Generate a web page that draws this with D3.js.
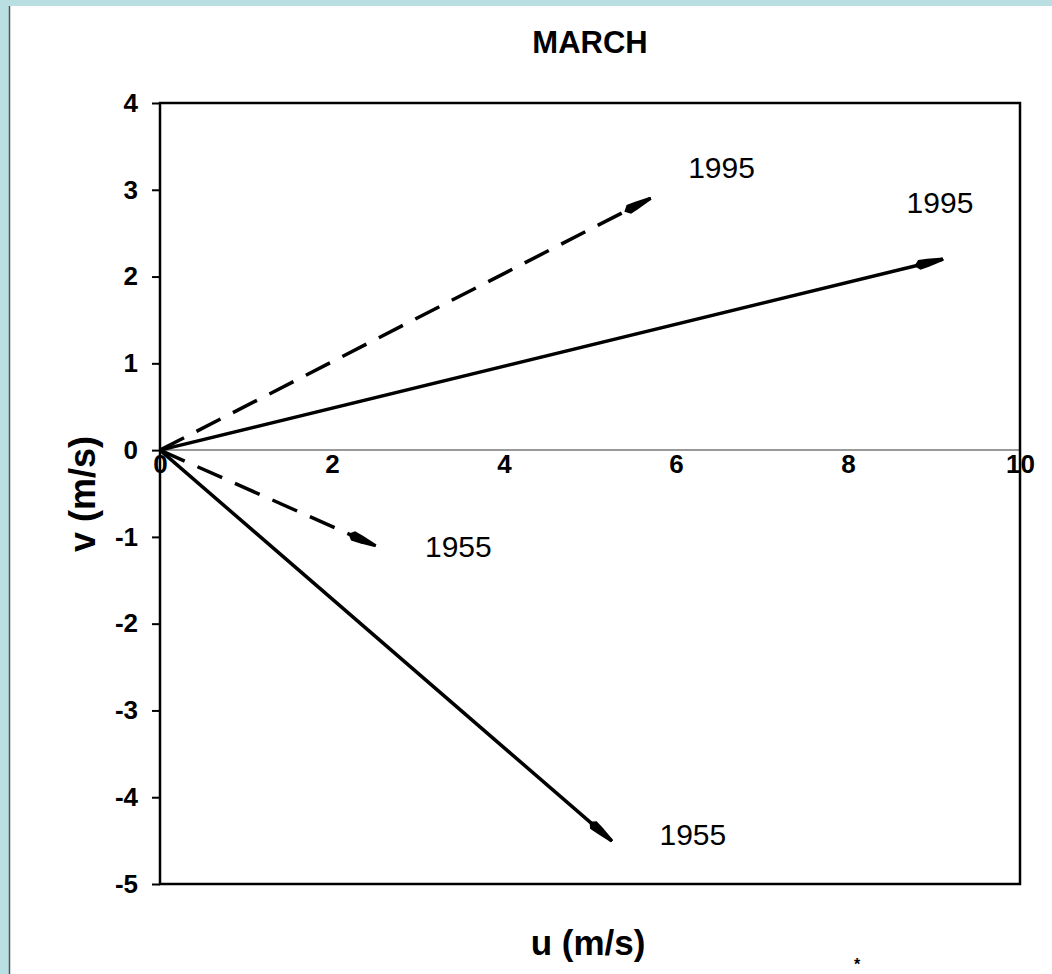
<!DOCTYPE html>
<html>
<head>
<meta charset="utf-8">
<script src="https://cdn.jsdelivr.net/npm/d3@7"></script>
<style>
  html, body { margin: 0; padding: 0; background: #b9dfe3; }
  svg { display: block; }
</style>
</head>
<body>
<script>
// Mean March wind vectors (u, v components in m/s)
const labels = ["1995", "1995", "1955", "1955"];
const uValues = [5.7, 9.1, 2.5, 5.25];
const vValues = [2.9, 2.2, -1.1, -4.5];
const dashed = [true, false, true, false];
const xTicks = [0, 2, 4, 6, 8, 10];
const yTicks = [4, 3, 2, 1, 0, -1, -2, -3, -4, -5];

const W = 1052, H = 974;
const svg = d3.select("body").append("svg").attr("width", W).attr("height", H);

// white sheet with a thin grey left edge
svg.append("rect").attr("x", 9).attr("y", 6).attr("width", W - 9).attr("height", H - 6).attr("fill", "#fff");
svg.append("line").attr("x1", 9.5).attr("x2", 9.5).attr("y1", 6).attr("y2", H)
  .attr("stroke", "#555").attr("stroke-width", 1.5);

const plot = { left: 160, right: 1020, top: 103, bottom: 884 };
const x = d3.scaleLinear().domain([0, 10]).range([plot.left, plot.right]);
const y = d3.scaleLinear().domain([-5, 4]).range([plot.bottom, plot.top]);

const font = "'Liberation Sans', Arial, sans-serif";
const fmt = d => String(d);

// title
svg.append("text").attr("x", 590).attr("y", 53).attr("text-anchor", "middle")
  .attr("font-family", font).attr("font-weight", "bold").attr("font-size", 31)
  .text("MARCH");

// zero line
svg.append("line").attr("x1", x(0)).attr("x2", x(10)).attr("y1", y(0)).attr("y2", y(0))
  .attr("stroke", "#777").attr("stroke-width", 1.5);

// y axis (left)
const yAxis = svg.append("g").attr("transform", `translate(${plot.left},0)`)
  .call(d3.axisLeft(y).tickValues(yTicks).tickSize(8).tickPadding(14).tickFormat(fmt));
yAxis.select(".domain").remove();
yAxis.selectAll(".tick line").attr("stroke", "#000").attr("stroke-width", 2);
yAxis.selectAll(".tick text")
  .style("font-family", font).style("font-size", "26px").style("font-weight", "bold").attr("fill", "#000");

// x axis along v = 0
const xAxis = svg.append("g").attr("transform", `translate(0,${y(0)})`)
  .call(d3.axisBottom(x).tickValues(xTicks).tickSize(0).tickPadding(4).tickFormat(fmt));
xAxis.select(".domain").remove();
xAxis.selectAll(".tick text")
  .style("font-family", font).style("font-size", "26px").style("font-weight", "bold").attr("fill", "#000");

// plot frame
svg.append("rect").attr("x", plot.left).attr("y", plot.top)
  .attr("width", plot.right - plot.left).attr("height", plot.bottom - plot.top)
  .attr("fill", "none").attr("stroke", "#000").attr("stroke-width", 2.5);

// arrowhead
svg.append("defs").append("marker")
  .attr("id", "head").attr("viewBox", "0 0 30 12").attr("refX", 29).attr("refY", 6)
  .attr("markerWidth", 30).attr("markerHeight", 12).attr("markerUnits", "userSpaceOnUse")
  .attr("orient", "auto")
  .append("path").attr("d", "M0,6 L5,1 L14,2 L30,4.5 L30,7.5 L14,10 L5,11 Z").attr("fill", "#000");

const vectors = labels.map((l, i) => ({ label: l, u: uValues[i], v: vValues[i], dashed: dashed[i] }));

svg.append("g").selectAll("line").data(vectors).join("line")
  .attr("x1", x(0)).attr("y1", y(0))
  .attr("x2", d => x(d.u)).attr("y2", d => y(d.v))
  .attr("stroke", "#000").attr("stroke-width", 3.5)
  .attr("stroke-dasharray", d => d.dashed ? "27 14" : null)
  .attr("marker-end", "url(#head)");

// vector year labels, offset from the tips
const labelOffsets = [[38, -20], [-36, -46], [50, 11], [48, 4]];
svg.append("g").selectAll("text").data(vectors).join("text")
  .attr("x", (d, i) => x(d.u) + labelOffsets[i][0])
  .attr("y", (d, i) => y(d.v) + labelOffsets[i][1])
  .attr("font-family", font).attr("font-size", 30)
  .text(d => d.label);

// axis titles
svg.append("text").attr("x", 588).attr("y", 955).attr("text-anchor", "middle")
  .attr("font-family", font).attr("font-weight", "bold").attr("font-size", 35)
  .text("u (m/s)");
svg.append("text").attr("transform", "translate(95,494) rotate(-90)").attr("text-anchor", "middle")
  .attr("font-family", font).attr("font-weight", "bold").attr("font-size", 36)
  .text("v (m/s)");

// footnote mark
svg.append("text").attr("x", 857).attr("y", 970).attr("text-anchor", "middle")
  .attr("font-family", font).attr("font-weight", "bold").attr("font-size", 16)
  .text("*");
</script>
</body>
</html>
